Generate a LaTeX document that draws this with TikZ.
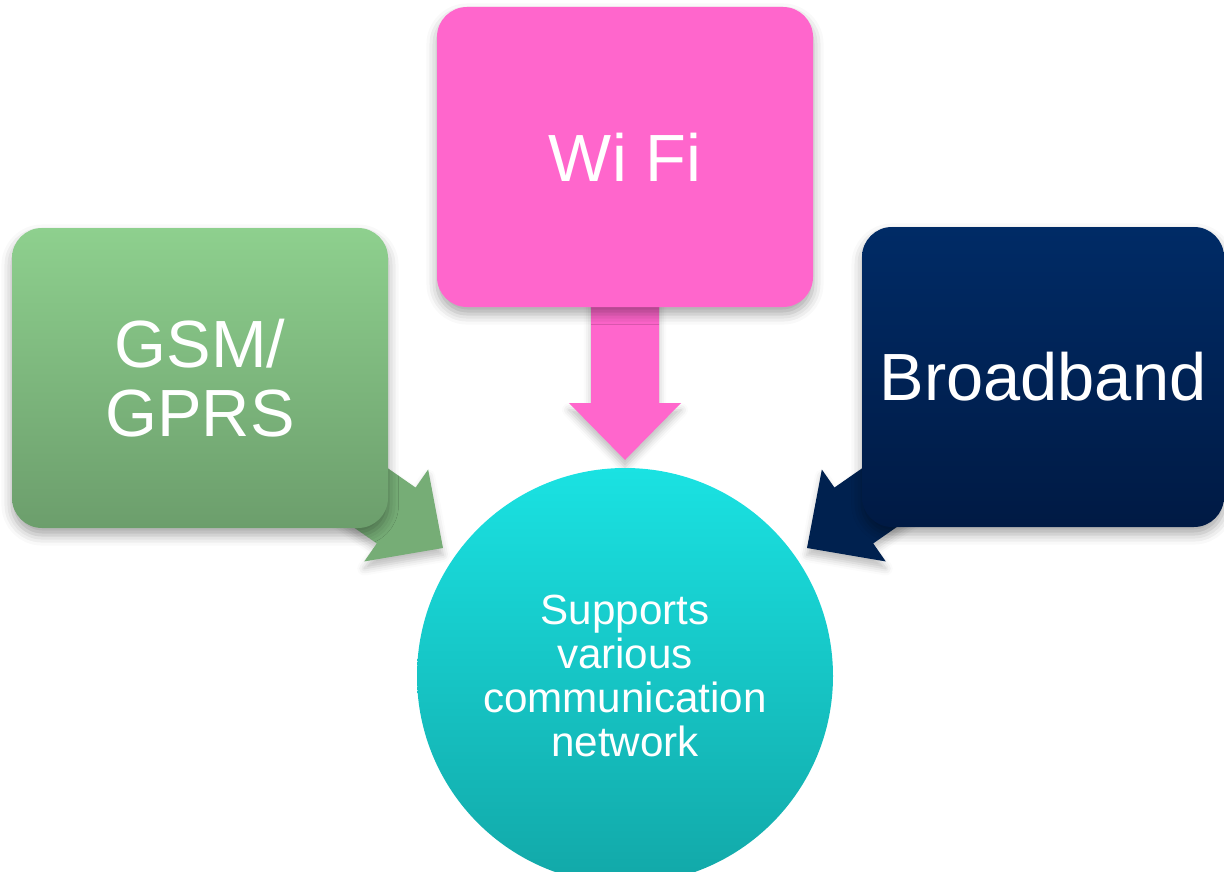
\documentclass[tikz,border=0pt]{standalone}
\usepackage{fontspec}
\setmainfont{Liberation Sans}
\usetikzlibrary{shadows.blur}

\definecolor{gsmtop}{HTML}{8ED08E}
\definecolor{gsmbottom}{HTML}{6C9E6C}
\definecolor{gsmarrow}{HTML}{76AD76}
\definecolor{wifipink}{HTML}{FF66CC}
\definecolor{bandtop}{HTML}{002B66}
\definecolor{bandbottom}{HTML}{001A44}
\definecolor{bandarrow}{HTML}{00214F}
\definecolor{hubtop}{HTML}{1AE2E2}
\definecolor{hubbottom}{HTML}{12A8A8}

\tikzset{
  netbox/.style={rectangle, rounded corners=0.3cm, minimum width=3.76cm,
    minimum height=3cm, text=white, align=center,
    font=\fontsize{19}{19.5}\selectfont,
    blur shadow={shadow xshift=0pt, shadow yshift=-2pt,
      shadow blur radius=3pt, shadow opacity=35}},
  hub/.style={circle, minimum size=4.16cm, text=white, align=center,
    font=\fontsize{12}{12.5}\selectfont},
  arrowshadow/.style={blur shadow={shadow xshift=0pt, shadow yshift=-2pt,
      shadow blur radius=2pt, shadow opacity=25}}
}

\begin{document}
\begin{tikzpicture}
\clip (0,0) rectangle (12.24,8.71);
\useasboundingbox (0,0) rectangle (12.24,8.71);

% arrow tips
\coordinate (gsmtip) at (4.43,3.23);
\coordinate (wifitip) at (6.25,4.11);
\coordinate (bandtip) at (8.07,3.23);

% block arrows, behind the boxes
\fill[gsmarrow, arrowshadow, shift={(gsmtip)}, rotate=-34.8]
  (0,0) -- (-0.57,0.56) -- (-0.57,0.34) -- (-2,0.34) -- (-2,-0.34)
  -- (-0.57,-0.34) -- (-0.57,-0.56) -- cycle;
\fill[wifipink, arrowshadow, shift={(wifitip)}, rotate=-90]
  (0,0) -- (-0.57,0.56) -- (-0.57,0.34) -- (-2,0.34) -- (-2,-0.34)
  -- (-0.57,-0.34) -- (-0.57,-0.56) -- cycle;
\fill[bandarrow, arrowshadow, shift={(bandtip)}, rotate=-145.2]
  (0,0) -- (-0.57,0.56) -- (-0.57,0.34) -- (-2,0.34) -- (-2,-0.34)
  -- (-0.57,-0.34) -- (-0.57,-0.56) -- cycle;

% boxes
\node[netbox, top color=gsmtop, bottom color=gsmbottom] (gsm) at (2.00,4.93) {GSM/\\GPRS};
\node[netbox, fill=wifipink] (wifi) at (6.25,7.14) {Wi Fi};
\node[netbox, minimum width=3.62cm, top color=bandtop, bottom color=bandbottom] (band) at (10.43,4.94) {Broadband};

% centre
\node[hub, top color=hubtop, bottom color=hubbottom] (hub) at (6.25,1.95)
  {Supports\\various\\communication\\network};
\end{tikzpicture}
\end{document}
